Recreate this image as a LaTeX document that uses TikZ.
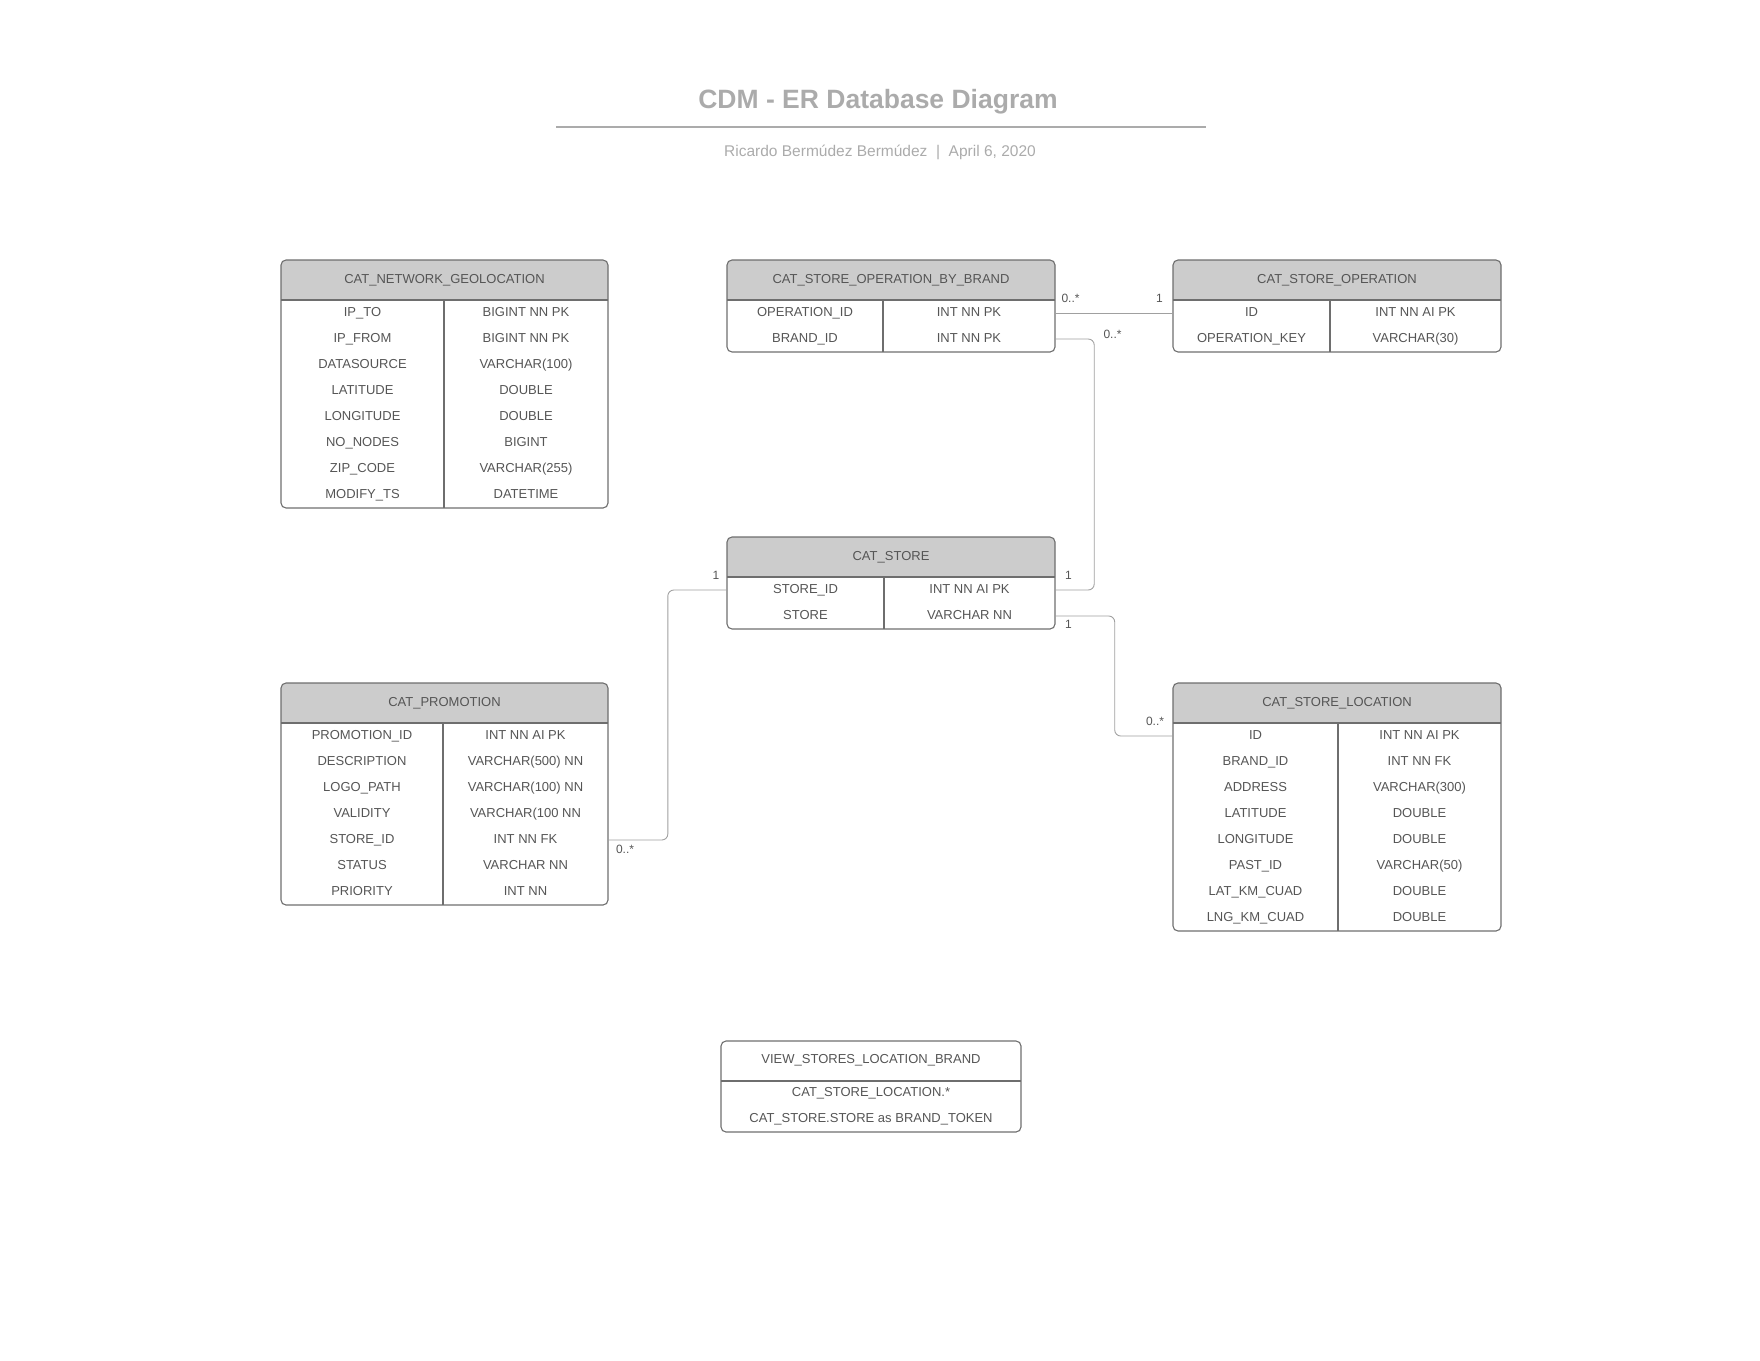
\documentclass[tikz,border=0pt]{standalone}
\usepackage{fontspec}
\setmainfont{Liberation Sans}
\usepackage{tikz}
\definecolor{hdrgray}{HTML}{CCCCCC}
\definecolor{boxgray}{HTML}{6E6E6E}
\definecolor{txtgray}{HTML}{555555}
\definecolor{lnkgray}{HTML}{A0A0A0}
\definecolor{ttlgray}{HTML}{ABABAB}

\begin{document}
\begin{tikzpicture}[x=1pt,y=-1pt,
		tbl/.style={draw=boxgray, line width=1.1pt, rounded corners=5pt},
		sep/.style={draw=boxgray, line width=1.1pt},
		cell/.style={text=txtgray, font=\fontsize{13}{15}\selectfont, inner sep=0pt, text height=9.5pt, text depth=3pt, minimum height=26pt},
		ttl/.style={text=txtgray, font=\fontsize{13}{15}\selectfont, inner sep=0pt, text height=9.5pt, text depth=3pt},
		lnk/.style={draw=lnkgray, line width=0.9pt, rounded corners=6pt},
		card/.style={text=txtgray, font=\fontsize{12}{14}\selectfont, inner sep=0pt, text height=9pt, text depth=2pt}]
		\useasboundingbox (0,0) rectangle (1760,1360);
		% title
		\node[text=ttlgray, font=\bfseries\fontsize{26.5}{30}\selectfont] (title) at (878,102) {CDM - ER Database Diagram};
		\draw[ttlgray, line width=1.5pt] (556,127) -- (1206,127);
		\node[text=ttlgray, font=\fontsize{15.5}{18}\selectfont] (sub) at (880,152) {Ricardo Bermúdez Bermúdez\ \ |\ \ April 6, 2020};
		% CAT_NETWORK_GEOLOCATION
		\fill[hdrgray] (281,300) [rounded corners=5pt] -- (281,260) -- (608,260) [sharp corners] -- (608,300) -- cycle;
		\draw[tbl] (281,260) rectangle (608,508);
		\draw[sep] (281,300) -- (608,300);
		\draw[sep] (444,300) -- (444,508);
		\node[ttl] (geo) at (444.5,280) {CAT\_NETWORK\_GEOLOCATION};
		\node[cell, minimum width=163pt] (geo-l1) at (362.5,313) {IP\_TO};
		\node[cell, minimum width=164pt] (geo-r1) at (526,313) {BIGINT NN PK};
		\node[cell, minimum width=163pt] (geo-l2) at (362.5,339) {IP\_FROM};
		\node[cell, minimum width=164pt] (geo-r2) at (526,339) {BIGINT NN PK};
		\node[cell, minimum width=163pt] (geo-l3) at (362.5,365) {DATASOURCE};
		\node[cell, minimum width=164pt] (geo-r3) at (526,365) {VARCHAR(100)};
		\node[cell, minimum width=163pt] (geo-l4) at (362.5,391) {LATITUDE};
		\node[cell, minimum width=164pt] (geo-r4) at (526,391) {DOUBLE};
		\node[cell, minimum width=163pt] (geo-l5) at (362.5,417) {LONGITUDE};
		\node[cell, minimum width=164pt] (geo-r5) at (526,417) {DOUBLE};
		\node[cell, minimum width=163pt] (geo-l6) at (362.5,443) {NO\_NODES};
		\node[cell, minimum width=164pt] (geo-r6) at (526,443) {BIGINT};
		\node[cell, minimum width=163pt] (geo-l7) at (362.5,469) {ZIP\_CODE};
		\node[cell, minimum width=164pt] (geo-r7) at (526,469) {VARCHAR(255)};
		\node[cell, minimum width=163pt] (geo-l8) at (362.5,495) {MODIFY\_TS};
		\node[cell, minimum width=164pt] (geo-r8) at (526,495) {DATETIME};
		% CAT_STORE_OPERATION_BY_BRAND
		\fill[hdrgray] (727,300) [rounded corners=5pt] -- (727,260) -- (1055,260) [sharp corners] -- (1055,300) -- cycle;
		\draw[tbl] (727,260) rectangle (1055,352);
		\draw[sep] (727,300) -- (1055,300);
		\draw[sep] (883,300) -- (883,352);
		\node[ttl] (obb) at (891,280) {CAT\_STORE\_OPERATION\_BY\_BRAND};
		\node[cell, minimum width=156pt] (obb-l1) at (805,313) {OPERATION\_ID};
		\node[cell, minimum width=172pt] (obb-r1) at (969,313) {INT NN PK};
		\node[cell, minimum width=156pt] (obb-l2) at (805,339) {BRAND\_ID};
		\node[cell, minimum width=172pt] (obb-r2) at (969,339) {INT NN PK};
		% CAT_STORE_OPERATION
		\fill[hdrgray] (1173,300) [rounded corners=5pt] -- (1173,260) -- (1501,260) [sharp corners] -- (1501,300) -- cycle;
		\draw[tbl] (1173,260) rectangle (1501,352);
		\draw[sep] (1173,300) -- (1501,300);
		\draw[sep] (1330,300) -- (1330,352);
		\node[ttl] (sop) at (1337,280) {CAT\_STORE\_OPERATION};
		\node[cell, minimum width=157pt] (sop-l1) at (1251.5,313) {ID};
		\node[cell, minimum width=171pt] (sop-r1) at (1415.5,313) {INT NN AI PK};
		\node[cell, minimum width=157pt] (sop-l2) at (1251.5,339) {OPERATION\_KEY};
		\node[cell, minimum width=171pt] (sop-r2) at (1415.5,339) {VARCHAR(30)};
		% CAT_STORE
		\fill[hdrgray] (727,577) [rounded corners=5pt] -- (727,537) -- (1055,537) [sharp corners] -- (1055,577) -- cycle;
		\draw[tbl] (727,537) rectangle (1055,629);
		\draw[sep] (727,577) -- (1055,577);
		\draw[sep] (884,577) -- (884,629);
		\node[ttl] (sto) at (891,557) {CAT\_STORE};
		\node[cell, minimum width=157pt] (sto-l1) at (805.5,590) {STORE\_ID};
		\node[cell, minimum width=171pt] (sto-r1) at (969.5,590) {INT NN AI PK};
		\node[cell, minimum width=157pt] (sto-l2) at (805.5,616) {STORE};
		\node[cell, minimum width=171pt] (sto-r2) at (969.5,616) {VARCHAR NN};
		% CAT_PROMOTION
		\fill[hdrgray] (281,723) [rounded corners=5pt] -- (281,683) -- (608,683) [sharp corners] -- (608,723) -- cycle;
		\draw[tbl] (281,683) rectangle (608,905);
		\draw[sep] (281,723) -- (608,723);
		\draw[sep] (443,723) -- (443,905);
		\node[ttl] (pro) at (444.5,703) {CAT\_PROMOTION};
		\node[cell, minimum width=162pt] (pro-l1) at (362,736) {PROMOTION\_ID};
		\node[cell, minimum width=165pt] (pro-r1) at (525.5,736) {INT NN AI PK};
		\node[cell, minimum width=162pt] (pro-l2) at (362,762) {DESCRIPTION};
		\node[cell, minimum width=165pt] (pro-r2) at (525.5,762) {VARCHAR(500) NN};
		\node[cell, minimum width=162pt] (pro-l3) at (362,788) {LOGO\_PATH};
		\node[cell, minimum width=165pt] (pro-r3) at (525.5,788) {VARCHAR(100) NN};
		\node[cell, minimum width=162pt] (pro-l4) at (362,814) {VALIDITY};
		\node[cell, minimum width=165pt] (pro-r4) at (525.5,814) {VARCHAR(100 NN};
		\node[cell, minimum width=162pt] (pro-l5) at (362,840) {STORE\_ID};
		\node[cell, minimum width=165pt] (pro-r5) at (525.5,840) {INT NN FK};
		\node[cell, minimum width=162pt] (pro-l6) at (362,866) {STATUS};
		\node[cell, minimum width=165pt] (pro-r6) at (525.5,866) {VARCHAR NN};
		\node[cell, minimum width=162pt] (pro-l7) at (362,892) {PRIORITY};
		\node[cell, minimum width=165pt] (pro-r7) at (525.5,892) {INT NN};
		% CAT_STORE_LOCATION
		\fill[hdrgray] (1173,723) [rounded corners=5pt] -- (1173,683) -- (1501,683) [sharp corners] -- (1501,723) -- cycle;
		\draw[tbl] (1173,683) rectangle (1501,931);
		\draw[sep] (1173,723) -- (1501,723);
		\draw[sep] (1338,723) -- (1338,931);
		\node[ttl] (loc) at (1337,703) {CAT\_STORE\_LOCATION};
		\node[cell, minimum width=165pt] (loc-l1) at (1255.5,736) {ID};
		\node[cell, minimum width=163pt] (loc-r1) at (1419.5,736) {INT NN AI PK};
		\node[cell, minimum width=165pt] (loc-l2) at (1255.5,762) {BRAND\_ID};
		\node[cell, minimum width=163pt] (loc-r2) at (1419.5,762) {INT NN FK};
		\node[cell, minimum width=165pt] (loc-l3) at (1255.5,788) {ADDRESS};
		\node[cell, minimum width=163pt] (loc-r3) at (1419.5,788) {VARCHAR(300)};
		\node[cell, minimum width=165pt] (loc-l4) at (1255.5,814) {LATITUDE};
		\node[cell, minimum width=163pt] (loc-r4) at (1419.5,814) {DOUBLE};
		\node[cell, minimum width=165pt] (loc-l5) at (1255.5,840) {LONGITUDE};
		\node[cell, minimum width=163pt] (loc-r5) at (1419.5,840) {DOUBLE};
		\node[cell, minimum width=165pt] (loc-l6) at (1255.5,866) {PAST\_ID};
		\node[cell, minimum width=163pt] (loc-r6) at (1419.5,866) {VARCHAR(50)};
		\node[cell, minimum width=165pt] (loc-l7) at (1255.5,892) {LAT\_KM\_CUAD};
		\node[cell, minimum width=163pt] (loc-r7) at (1419.5,892) {DOUBLE};
		\node[cell, minimum width=165pt] (loc-l8) at (1255.5,918) {LNG\_KM\_CUAD};
		\node[cell, minimum width=163pt] (loc-r8) at (1419.5,918) {DOUBLE};
		% VIEW_STORES_LOCATION_BRAND
		\draw[tbl] (721,1041) rectangle (1021,1132);
		\draw[sep] (721,1081) -- (1021,1081);
		\node[ttl] (view) at (871,1060) {VIEW\_STORES\_LOCATION\_BRAND};
		\node[cell, minimum width=300pt] (view-1) at (871,1093) {CAT\_STORE\_LOCATION.*};
		\node[cell, minimum width=300pt] (view-2) at (871,1119) {CAT\_STORE.STORE as BRAND\_TOKEN};
		% relations
		\draw[lnk] (obb-r1.east) -- (sop-l1.west);
		\draw[lnk] (obb-r2.east) -- ++(39,0) |- (sto-r1.east);
		\draw[lnk] (sto-l1.west) -- ++(-59,0) |- (pro-r5.east);
		\draw[lnk] (sto-r2.east) -- ++(59.5,0) |- (loc-l1.west);
		\node[card] (c1a) at (1070.5,299) {0..*};
		\node[card] (c1b) at (1159.5,299) {1};
		\node[card] (c2a) at (1112.5,335) {0..*};
		\node[card] (c2b) at (1068.5,576) {1};
		\node[card] (c3a) at (716,576) {1};
		\node[card] (c3b) at (625,850) {0..*};
		\node[card] (c4a) at (1068.5,625) {1};
		\node[card] (c4b) at (1155,722) {0..*};
		\end{tikzpicture}
\end{document}
